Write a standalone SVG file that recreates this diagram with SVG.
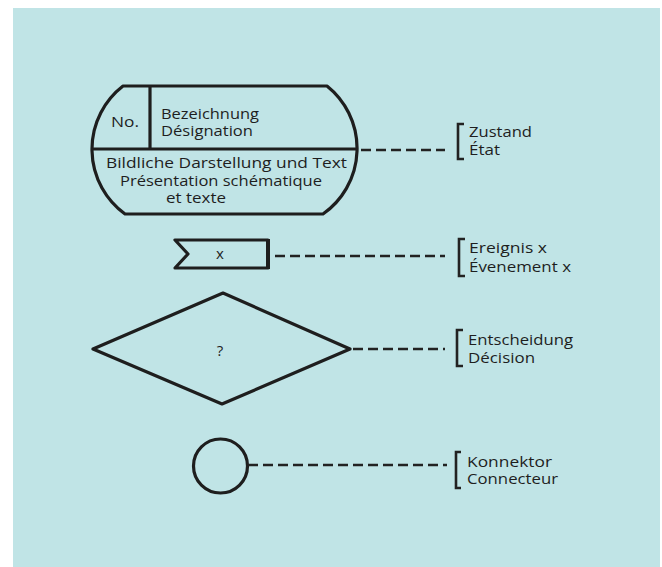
<svg xmlns="http://www.w3.org/2000/svg" width="662" height="567" viewBox="0 0 662 567">
<style>
.shape{fill:none;stroke:#1e1e1e;stroke-width:3.2;stroke-linejoin:round}
.dash{fill:none;stroke:#222;stroke-width:2.5;stroke-dasharray:10 5}
.br{fill:none;stroke:#222;stroke-width:2.6}
text{font-family:"Open Sans","Liberation Sans",sans-serif;fill:#1e1e1e}
.s{font-size:15px}
.l{font-size:15px}
</style>
<rect x="0" y="0" width="662" height="567" fill="#ffffff"/>
<rect x="13" y="8" width="647" height="559" fill="#c0e4e6"/>

<g id="state">
<path class="shape" d="M123,86 H327 A80,80 0 0 1 323,214 H125 A80,80 0 0 1 123,86 Z"/>
<line class="shape" x1="92" y1="149" x2="358" y2="149"/>
<line class="shape" x1="150" y1="86" x2="150" y2="149"/>
<text class="s" x="111" y="127" textLength="28" lengthAdjust="spacingAndGlyphs">No.</text>
<text class="s" x="161" y="119" textLength="98" lengthAdjust="spacingAndGlyphs">Bezeichnung</text>
<text class="s" x="161" y="136" textLength="92" lengthAdjust="spacingAndGlyphs">Désignation</text>
<text class="s" x="106" y="168" textLength="241" lengthAdjust="spacingAndGlyphs">Bildliche Darstellung und Text</text>
<text class="s" x="120" y="186" textLength="202" lengthAdjust="spacingAndGlyphs">Présentation schématique</text>
<text class="s" x="166" y="203" textLength="60" lengthAdjust="spacingAndGlyphs">et texte</text>
</g>

<g id="event">
<path class="shape" d="M175,240 H268 V268 H175 L188,254 Z"/>
<line x1="268" y1="239" x2="268" y2="269" stroke="#1e1e1e" stroke-width="4"/>
<text class="l" x="220" y="259" text-anchor="middle">x</text>
</g>

<g id="decision">
<path class="shape" d="M93,349 L223,293 L350,349 L222,404 Z"/>
<text class="l" x="220" y="356" text-anchor="middle">?</text>
</g>

<g id="connector">
<circle class="shape" cx="220.5" cy="466" r="27"/>
</g>

<g id="connectors">
<line class="dash" x1="361" y1="150" x2="445" y2="150"/>
<line class="dash" x1="275" y1="256" x2="445" y2="256"/>
<line class="dash" x1="353" y1="349" x2="445" y2="349"/>
<line class="dash" x1="248" y1="465" x2="447" y2="465"/>
</g>

<g id="label-state">
<path class="br" d="M464,124 H458 V159 H464"/>
<text class="l" x="469" y="137" textLength="63" lengthAdjust="spacingAndGlyphs">Zustand</text>
<text class="l" x="469" y="155" textLength="31" lengthAdjust="spacingAndGlyphs">État</text>
</g>
<g id="label-event">
<path class="br" d="M465,239 H459 V276 H465"/>
<text class="l" x="469" y="253" textLength="78" lengthAdjust="spacingAndGlyphs">Ereignis x</text>
<text class="l" x="469" y="272" textLength="102" lengthAdjust="spacingAndGlyphs">Évenement x</text>
</g>
<g id="label-decision">
<path class="br" d="M463,330 H457 V366 H463"/>
<text class="l" x="468" y="345" textLength="105" lengthAdjust="spacingAndGlyphs">Entscheidung</text>
<text class="l" x="468" y="363" textLength="67" lengthAdjust="spacingAndGlyphs">Décision</text>
</g>
<g id="label-connector">
<path class="br" d="M461,452 H456 V488 H461"/>
<text class="l" x="467" y="467" textLength="85" lengthAdjust="spacingAndGlyphs">Konnektor</text>
<text class="l" x="467" y="484" textLength="91" lengthAdjust="spacingAndGlyphs">Connecteur</text>
</g>
</svg>
